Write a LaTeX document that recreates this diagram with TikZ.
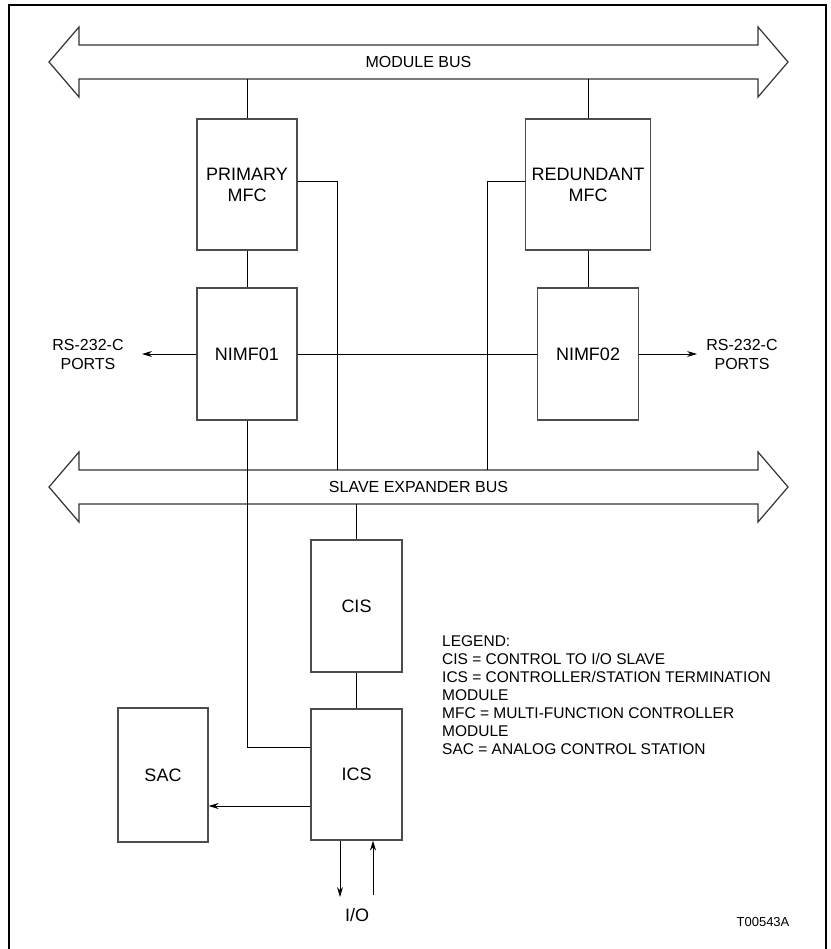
\documentclass[tikz,border=0pt]{standalone}
\usepackage{fontspec}
\setmainfont{Liberation Sans}
\usetikzlibrary{arrows.meta}

\begin{document}
\begin{tikzpicture}[x=1pt, y=-1pt,
		unit/.style={draw=black!70, line width=1.2pt, minimum width=100pt, minimum height=131pt, inner sep=0pt, align=center, font=\fontsize{18}{21}\selectfont},
		wire/.style={line width=1pt},
		sig/.style={wire, -{Stealth[length=10pt, width=6pt]}},
		bus/.style={draw=black!80, line width=1.2pt},
		busname/.style={minimum width=679pt, minimum height=34pt, inner sep=0pt, font=\fontsize{16}{19}\selectfont},
		note/.style={inner sep=0pt, align=center, font=\fontsize{16}{19}\selectfont}]
		\useasboundingbox (0,0) rectangle (830,949);
		% frame
		\draw[line width=1.5pt] (9,955) -- (9,5) -- (826,5) -- (826,955);

		% buses
		\draw[bus] (79,45) -- (758,45) -- (758,27) -- (788,62) -- (758,97) -- (758,79) -- (79,79) -- (79,97) -- (49,62) -- (79,27) -- cycle;
		\draw[bus] (79,470) -- (758,470) -- (758,452) -- (788,487) -- (758,522) -- (758,504) -- (79,504) -- (79,522) -- (49,487) -- (79,452) -- cycle;
		\node[busname] (mbus) at (418.5,62) {MODULE BUS};
		\node[busname] (sbus) at (418.5,487) {SLAVE EXPANDER BUS};

		% modules
		\node[unit] (pmfc) at (247,184.5) {PRIMARY\\MFC};
		\node[unit, minimum width=125pt] (rmfc) at (588,184.5) {REDUNDANT\\MFC};
		\node[unit, minimum height=132pt] (nimf1) at (247,354) {NIMF01};
		\node[unit, minimum width=101pt, minimum height=132pt] (nimf2) at (588,354) {NIMF02};
		\node[unit, minimum width=91pt, minimum height=132pt] (cis) at (356.5,606) {CIS};
		\node[unit, minimum width=91pt] (ics) at (356.5,774.5) {ICS};
		\node[unit, minimum width=90pt, minimum height=134pt] (sac) at (163,775) {SAC};

		\node[note] (rsl) at (88,354) {RS-232-C\\PORTS};
		\node[note] (rsr) at (742,354) {RS-232-C\\PORTS};
		\node[note, font=\fontsize{18}{21}\selectfont] (io) at (357,915) {I/O};
		\node[inner sep=0pt, anchor=north west, align=left, font=\fontsize{15.5}{18}\selectfont] (legend) at (442,635) {LEGEND:\\CIS = CONTROL TO I/O SLAVE\\ICS = CONTROLLER/STATION TERMINATION\\MODULE\\MFC = MULTI-FUNCTION CONTROLLER\\MODULE\\SAC = ANALOG CONTROL STATION};
		\node[inner sep=0pt, font=\fontsize{13}{15}\selectfont] (fig) at (763,922) {T00543A};

		\coordinate (ptap) at (337,0);
		\coordinate (rtap) at (487,0);
		\coordinate (portl) at (142,354);
		\coordinate (portr) at (697,354);
		\coordinate (iodn) at (340,897);
		\coordinate (ioup) at (373,895);

		% connections
		\draw[wire] (pmfc |- mbus.south) -- (pmfc);
		\draw[wire] (rmfc |- mbus.south) -- (rmfc);
		\draw[wire] (pmfc) -- (nimf1);
		\draw[wire] (rmfc) -- (nimf2);
		\draw[wire] (nimf1) -- (nimf2);
		\draw[sig] (nimf1) -- (portl);
		\draw[sig] (nimf2) -- (portr);
		\draw[wire] ([yshift=2.5pt]pmfc.east) -| (ptap |- sbus.north);
		\draw[wire] ([yshift=3pt]rmfc.west) -| (rtap |- sbus.north);
		\draw[wire] (nimf1.south) |- ([yshift=27.5pt]ics.west);
		\draw[wire] (sbus.south -| cis) -- (cis);
		\draw[wire] (cis) -- (ics);
		\draw[sig] ([yshift=-31.5pt]ics.west) coordinate (s1) -- (s1 -| sac.east);
		\draw[sig] (ics.south -| iodn) -- (iodn);
		\draw[sig] (ioup) -- (ics.south -| ioup);
	\end{tikzpicture}
\end{document}
